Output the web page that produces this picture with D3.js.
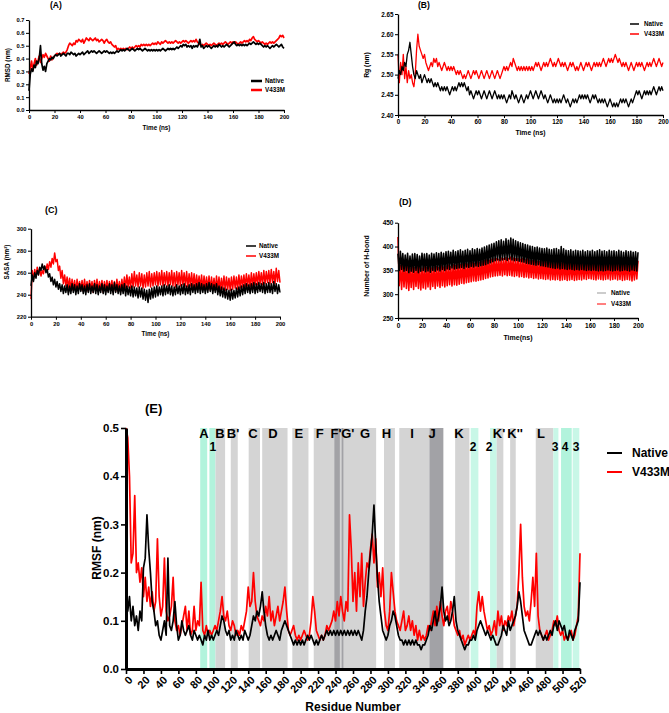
<!DOCTYPE html>
<html><head><meta charset="utf-8">
<script src="https://cdn.jsdelivr.net/npm/d3@7"></script>
<style>body{margin:0;background:#fff}svg{display:block;font-family:Arial,"Liberation Sans",sans-serif}</style>
</head><body><svg id="c" width="669" height="713"></svg>
<script>
// ---------- DATA ----------
const timeNs = d3.range(0, 201);
const xTicksTime = [0,20,40,60,80,100,120,140,160,180,200];

const rmsdNative = [0.15,0.28,0.32,0.30,0.35,0.33,0.38,0.36,0.40,0.50,0.36,
0.31,0.34,0.30,0.36,0.38,0.40,0.39,0.41,0.40,0.42,
0.43,0.42,0.43,0.44,0.42,0.43,0.44,0.43,0.42,0.44,
0.44,0.43,0.45,0.44,0.43,0.44,0.42,0.43,0.44,0.43,
0.44,0.45,0.43,0.44,0.45,0.46,0.44,0.45,0.46,0.45,
0.46,0.45,0.44,0.45,0.46,0.45,0.44,0.45,0.46,0.45,
0.46,0.45,0.44,0.45,0.44,0.45,0.44,0.45,0.46,0.45,
0.46,0.47,0.46,0.47,0.46,0.47,0.48,0.47,0.46,0.47,
0.48,0.47,0.46,0.47,0.48,0.47,0.48,0.47,0.46,0.47,
0.48,0.47,0.46,0.47,0.46,0.47,0.46,0.47,0.46,0.47,
0.46,0.47,0.46,0.47,0.48,0.47,0.46,0.47,0.48,0.47,
0.48,0.47,0.48,0.47,0.48,0.49,0.48,0.49,0.50,0.49,
0.51,0.50,0.51,0.49,0.50,0.49,0.50,0.48,0.50,0.49,
0.50,0.49,0.51,0.55,0.49,0.50,0.48,0.49,0.50,0.49,
0.50,0.49,0.48,0.49,0.50,0.49,0.50,0.49,0.51,0.50,
0.49,0.50,0.49,0.50,0.51,0.50,0.49,0.50,0.51,0.52,
0.53,0.51,0.50,0.51,0.50,0.51,0.50,0.51,0.50,0.51,
0.50,0.51,0.52,0.51,0.52,0.53,0.52,0.51,0.52,0.51,
0.52,0.51,0.50,0.49,0.50,0.49,0.50,0.49,0.48,0.49,
0.50,0.49,0.50,0.51,0.50,0.49,0.50,0.51,0.49,0.48];
const rmsdV433M = [0.28,0.33,0.38,0.31,0.36,0.40,0.35,0.38,0.42,0.37,0.40,
0.43,0.41,0.44,0.42,0.40,0.38,0.42,0.39,0.41,0.42,
0.43,0.44,0.43,0.44,0.43,0.44,0.45,0.44,0.45,0.47,
0.50,0.52,0.51,0.50,0.52,0.51,0.54,0.53,0.55,0.54,
0.53,0.55,0.52,0.54,0.56,0.55,0.54,0.56,0.55,0.54,
0.55,0.56,0.54,0.55,0.53,0.54,0.55,0.54,0.52,0.54,
0.55,0.53,0.52,0.53,0.51,0.50,0.49,0.50,0.47,0.48,
0.47,0.48,0.47,0.48,0.47,0.48,0.47,0.48,0.49,0.48,
0.49,0.48,0.49,0.50,0.49,0.50,0.49,0.51,0.50,0.51,
0.50,0.51,0.50,0.51,0.50,0.51,0.52,0.51,0.52,0.51,
0.53,0.52,0.51,0.53,0.52,0.53,0.54,0.53,0.52,0.53,
0.52,0.53,0.52,0.53,0.54,0.53,0.52,0.53,0.52,0.53,
0.54,0.53,0.54,0.53,0.52,0.53,0.54,0.53,0.54,0.53,
0.55,0.53,0.52,0.51,0.50,0.51,0.50,0.51,0.52,0.51,
0.50,0.51,0.50,0.51,0.52,0.51,0.50,0.51,0.52,0.51,
0.52,0.51,0.52,0.53,0.52,0.51,0.52,0.53,0.52,0.53,
0.52,0.53,0.52,0.51,0.52,0.53,0.52,0.53,0.54,0.53,
0.54,0.53,0.55,0.54,0.56,0.57,0.55,0.54,0.53,0.54,
0.53,0.52,0.53,0.52,0.51,0.52,0.51,0.52,0.53,0.52,
0.53,0.52,0.53,0.54,0.55,0.56,0.58,0.57,0.58,0.56];

const rgNative = [2.49,2.51,2.50,2.52,2.51,2.53,2.52,2.55,2.56,2.58,2.55,
2.52,2.50,2.49,2.51,2.50,2.49,2.50,2.48,2.49,2.50,
2.49,2.48,2.49,2.48,2.49,2.48,2.47,2.48,2.47,2.48,
2.47,2.46,2.47,2.46,2.47,2.46,2.47,2.46,2.45,2.46,
2.47,2.46,2.47,2.46,2.47,2.48,2.47,2.48,2.47,2.48,
2.47,2.46,2.47,2.45,2.46,2.45,2.44,2.45,2.46,2.45,
2.46,2.45,2.44,2.45,2.46,2.45,2.44,2.45,2.46,2.45,
2.44,2.45,2.46,2.45,2.44,2.45,2.44,2.45,2.44,2.45,
2.44,2.43,2.44,2.45,2.44,2.46,2.45,2.44,2.45,2.44,
2.43,2.44,2.45,2.44,2.43,2.44,2.45,2.44,2.45,2.46,
2.45,2.44,2.45,2.46,2.45,2.44,2.45,2.46,2.45,2.44,
2.45,2.44,2.43,2.44,2.45,2.44,2.43,2.44,2.43,2.44,
2.43,2.44,2.43,2.44,2.45,2.44,2.43,2.44,2.43,2.42,
2.43,2.44,2.43,2.44,2.43,2.44,2.45,2.44,2.45,2.44,
2.45,2.44,2.45,2.44,2.43,2.44,2.45,2.44,2.45,2.44,
2.43,2.44,2.43,2.44,2.43,2.44,2.43,2.42,2.43,2.44,
2.43,2.42,2.43,2.42,2.43,2.42,2.43,2.44,2.43,2.44,
2.43,2.44,2.43,2.42,2.43,2.44,2.43,2.44,2.45,2.46,
2.45,2.46,2.45,2.44,2.45,2.46,2.45,2.46,2.45,2.46,
2.45,2.46,2.47,2.46,2.45,2.46,2.47,2.46,2.47,2.46];
const rgV433M = [2.55,2.48,2.53,2.50,2.55,2.49,2.52,2.48,2.51,2.49,2.50,
2.48,2.47,2.50,2.56,2.60,2.57,2.56,2.55,2.54,2.55,
2.53,2.52,2.51,2.52,2.53,2.52,2.54,2.53,2.54,2.52,
2.53,2.52,2.51,2.52,2.53,2.52,2.51,2.52,2.51,2.52,
2.51,2.52,2.51,2.50,2.51,2.50,2.51,2.50,2.49,2.50,
2.49,2.50,2.51,2.50,2.49,2.50,2.51,2.50,2.51,2.50,
2.49,2.50,2.51,2.50,2.49,2.50,2.51,2.50,2.49,2.50,
2.51,2.50,2.49,2.50,2.51,2.50,2.49,2.50,2.51,2.52,
2.51,2.52,2.51,2.52,2.53,2.52,2.54,2.53,2.52,2.51,
2.52,2.51,2.52,2.51,2.52,2.51,2.52,2.51,2.52,2.51,
2.52,2.51,2.52,2.53,2.52,2.53,2.52,2.51,2.52,2.53,
2.52,2.53,2.52,2.53,2.54,2.53,2.52,2.53,2.52,2.53,
2.54,2.53,2.52,2.53,2.52,2.53,2.52,2.51,2.52,2.53,
2.52,2.53,2.52,2.51,2.52,2.51,2.52,2.53,2.52,2.51,
2.52,2.53,2.52,2.53,2.52,2.51,2.52,2.53,2.52,2.53,
2.52,2.53,2.52,2.53,2.54,2.53,2.52,2.53,2.54,2.53,
2.54,2.53,2.54,2.55,2.54,2.53,2.54,2.53,2.52,2.53,
2.52,2.53,2.52,2.51,2.52,2.53,2.52,2.51,2.52,2.53,
2.52,2.53,2.52,2.53,2.52,2.51,2.52,2.53,2.52,2.53,
2.52,2.53,2.54,2.53,2.52,2.53,2.54,2.53,2.52,2.53];

const sasaNative = [248,258,252,260,255,262,258,265,262,268,263,
266,260,263,256,259,252,256,249,254,247,
252,245,250,243,249,241,248,242,249,240,
248,241,250,242,249,240,248,241,250,243,
249,241,248,240,249,242,250,241,248,242,
250,241,249,240,248,242,250,241,249,240,
248,242,250,241,249,240,251,242,249,241,
248,240,249,241,250,239,248,240,247,239,
248,238,247,239,246,237,247,238,246,236,
245,235,244,233,245,236,246,237,247,238,
248,239,247,240,248,239,249,240,248,241,
249,240,248,239,247,240,249,241,248,240,
249,241,250,240,248,241,249,240,250,242,
249,241,250,242,251,241,250,242,249,241,
250,242,251,243,250,241,249,242,250,240,
248,239,247,238,246,237,245,236,244,235,
245,236,244,237,246,238,247,239,248,240,
249,241,250,242,249,241,250,242,251,241,
250,242,251,243,250,242,251,241,250,242,
251,242,250,241,252,243,250,241,249,242];
const sasaV433M = [236,262,254,263,256,265,258,264,257,262,259,
266,261,268,263,270,265,273,268,278,270,
272,262,266,255,262,250,258,248,256,246,
255,245,254,244,253,243,254,245,252,244,
253,243,254,244,252,243,253,244,252,242,
253,244,254,243,252,244,253,242,252,244,
253,243,252,244,253,242,252,243,254,244,
252,243,254,244,256,246,258,247,256,246,
259,247,261,248,258,247,260,248,259,246,
258,247,260,248,261,247,259,248,260,249,
261,248,260,249,262,248,260,249,261,248,
260,249,262,248,260,247,261,249,260,248,
262,249,260,248,261,247,259,248,260,247,
259,246,258,247,257,246,258,245,257,246,
256,245,257,244,256,245,255,244,257,245,
256,244,255,245,257,244,256,245,255,244,
256,245,257,246,256,245,258,246,257,247,
258,247,259,248,258,247,260,248,259,249,
260,249,261,250,260,249,262,250,261,251,
262,250,263,251,261,250,264,252,262,251];

const hbondNative = [385,350,390,352,385,348,382,350,386,345,380,
348,384,346,385,350,383,345,380,348,386,
350,384,347,385,349,382,346,386,350,384,
348,387,351,385,349,388,352,386,350,389,
353,390,352,388,355,392,353,389,354,391,
355,393,356,390,354,392,357,394,356,391,
358,395,357,393,359,396,358,394,360,397,
361,399,362,401,364,403,366,405,368,407,
370,410,372,412,370,414,372,411,373,416,
371,413,374,418,372,415,370,412,371,410,
369,408,368,406,367,404,365,403,364,401,
363,400,362,398,361,399,362,397,360,396,
359,395,358,397,357,394,356,393,355,395,
354,396,355,393,353,400,354,395,353,392,
352,391,353,393,352,390,351,392,352,391,
351,390,352,392,351,389,350,391,351,390,
350,392,351,389,350,391,349,393,350,390,
349,391,350,389,351,392,350,390,349,391,
350,389,351,392,349,390,350,388,351,391,
350,389,349,390,351,388,350,389,349,388];
const hbondV433M = [420,318,360,310,362,315,358,312,360,308,355,
314,358,310,356,316,360,312,357,309,355,
313,359,311,356,315,358,310,355,316,357,
312,358,317,356,314,360,318,357,315,359,
318,361,320,358,317,362,320,360,319,363,
321,362,323,364,322,365,324,363,325,366,
326,367,328,365,327,368,329,366,330,369,
331,370,333,372,334,371,336,373,337,374,
338,375,339,373,340,376,338,374,341,377,
339,375,340,378,338,376,337,374,339,375,
336,373,337,375,335,372,336,374,334,371,
335,370,333,371,334,369,332,368,333,370,
332,369,331,368,332,367,330,368,331,366,
330,367,331,368,329,366,330,367,331,365,
329,366,330,368,331,367,329,366,330,368,
331,367,330,369,332,368,331,367,333,369,
332,368,331,367,330,366,332,368,331,367,
330,366,331,368,332,367,330,369,331,368,
332,367,330,366,331,368,329,367,330,369,
331,368,330,367,328,366,330,368,332,370];

// RMSF per residue (every 2nd residue)
const residues = d3.range(0, 521, 2);
const rmsfNative = [.16,.12,.15,.10,.13,.09,.11,.08,.12,.10,
.21,.23,.32,.25,.20,.14,.12,.09,.10,.07,
.06,.08,.10,.07,.23,.09,.08,.10,.14,.09,
.06,.07,.10,.08,.07,.08,.09,.07,.06,.08,
.07,.06,.07,.06,.05,.07,.06,.08,.06,.07,
.06,.07,.08,.07,.09,.11,.10,.08,.07,.08,
.06,.07,.06,.08,.07,.06,.07,.06,.08,.07,
.06,.07,.09,.11,.10,.12,.11,.13,.16,.12,
.09,.07,.06,.07,.06,.07,.08,.07,.06,.08,
.09,.10,.09,.08,.07,.06,.05,.06,.05,.06,
.05,.06,.05,.06,.07,.06,.07,.06,.05,.06,
.05,.06,.07,.06,.07,.08,.07,.08,.07,.08,
.07,.08,.07,.08,.07,.08,.07,.08,.07,.08,
.07,.08,.07,.08,.07,.06,.08,.12,.15,.20,
.24,.28,.34,.26,.19,.14,.11,.08,.07,.06,
.07,.09,.10,.12,.11,.09,.07,.06,.06,.05,
.06,.05,.06,.05,.06,.05,.06,.05,.05,.04,
.05,.05,.06,.07,.09,.08,.10,.12,.09,.11,
.13,.17,.12,.10,.11,.09,.10,.12,.15,.10,
.08,.07,.06,.05,.04,.05,.05,.06,.06,.07,
.06,.08,.09,.10,.09,.08,.07,.08,.07,.06,
.07,.06,.05,.05,.06,.07,.09,.08,.07,.10,
.08,.09,.10,.11,.13,.16,.14,.11,.08,.07,
.06,.05,.05,.06,.07,.08,.07,.08,.07,.06,
.07,.06,.07,.08,.07,.09,.10,.08,.10,.09,
.08,.09,.07,.06,.08,.07,.06,.08,.09,.10,
.18];
const rmsfV433M = [.50,.48,.40,.22,.24,.36,.20,.22,.18,.21,
.15,.19,.14,.17,.13,.16,.12,.14,.27,.15,
.11,.13,.23,.12,.10,.11,.13,.19,.10,.08,
.09,.07,.09,.11,.13,.08,.12,.07,.08,.13,
.08,.10,.09,.18,.08,.07,.09,.07,.08,.07,
.08,.09,.08,.10,.12,.15,.11,.10,.12,.09,
.08,.10,.09,.07,.08,.07,.09,.08,.10,.12,
.17,.13,.14,.20,.14,.11,.10,.09,.11,.10,
.13,.11,.15,.10,.12,.09,.11,.13,.10,.12,
.14,.17,.12,.08,.07,.08,.09,.07,.06,.07,
.06,.07,.08,.07,.06,.07,.10,.15,.12,.08,
.07,.06,.07,.06,.07,.09,.08,.09,.10,.12,
.10,.14,.11,.15,.12,.10,.14,.12,.32,.25,
.14,.20,.12,.22,.15,.24,.13,.18,.22,.21,
.25,.28,.22,.27,.17,.20,.15,.21,.12,.09,
.08,.12,.20,.16,.12,.10,.09,.08,.10,.12,
.08,.09,.11,.08,.10,.07,.09,.06,.08,.06,
.07,.06,.07,.09,.08,.10,.12,.09,.13,.10,
.14,.11,.09,.12,.13,.10,.14,.12,.09,.08,
.07,.08,.06,.07,.05,.06,.07,.06,.07,.08,
.07,.13,.16,.12,.15,.12,.10,.08,.09,.07,
.08,.10,.07,.12,.09,.11,.08,.10,.09,.11,
.10,.12,.09,.11,.13,.20,.30,.19,.13,.11,
.12,.10,.14,.19,.13,.24,.11,.08,.07,.06,
.07,.08,.06,.07,.08,.10,.09,.11,.08,.07,
.08,.06,.07,.06,.07,.08,.06,.07,.09,.11,
.24];
const rmsfTicks = [0,0.1,0.2,0.3,0.4,0.5];
const residueTicks = d3.range(0, 521, 20);

// secondary-structure regions (residue ranges)
const regionStart = [85,95.5,102.5,120,140.5,156,190.5,215,245,238.5,247,295.5,313,347.5,377,394.8,417,424.6,440,469.3,489.5,498.3,511.6];
const regionEnd   = [93,102.5,113.5,128,153.5,185,209,238.5,286.5,245,249,308,347.5,363.5,393.3,403.6,424.6,432.2,446.4,489.5,495.3,510.5,519.2];
const regionKind  = ['c','c','g','g','g','g','g','g','g','d','d','g','g','d','g','l','l','g','g','g','l','c','l'];
const labelText = ['A','1','B',"B'",'C','D','E','F',"F'","G'",'G','H','I','J','K','2','2',"K'","K''",'L','3','4','3'];
const labelRes  = [89.3,99.6,107.7,122.6,145.5,168.4,198,222,240.5,254,273.8,298.4,327.6,350.5,381.4,397.5,415.8,427.3,445.6,475.4,491.4,502.9,515.5];
const labelLow  = [0,1,0,0,0,0,0,0,0,0,0,0,0,0,0,1,1,0,0,0,1,1,1];

// ---------- DRAW ----------
const svg = d3.select('#c');
const RED = '#ff0000';

function styleAxis(g, fs, lw){
  g.select('.domain').attr('stroke','#000').attr('stroke-width',lw);
  g.selectAll('.tick line').attr('stroke','#000').attr('stroke-width',Math.max(0.8,lw*0.8));
  g.selectAll('.tick text').attr('font-size',fs).attr('font-weight','bold').attr('fill','#000');
}

function tsPanel(o){
  const x = d3.scaleLinear().domain([0,200]).range([o.x0,o.x1]);
  const y = d3.scaleLinear().domain(o.yDom).range([o.y1,o.y0]);
  const g = svg.append('g');
  const line = d3.line().x((d,i)=>x(timeNs[i])).y(d=>y(d));
  g.append('path').datum(o.red).attr('d',line).attr('fill','none')
    .attr('stroke',RED).attr('stroke-width',o.lw).attr('stroke-linejoin','round');
  g.append('path').datum(o.black).attr('d',line).attr('fill','none')
    .attr('stroke','#000').attr('stroke-width',o.lw).attr('stroke-linejoin','round');
  const xa = g.append('g').attr('transform',`translate(0,${o.y1})`)
    .call(d3.axisBottom(x).tickValues(xTicksTime).tickSize(3).tickSizeOuter(0).tickPadding(2));
  styleAxis(xa,o.fs,1.3);
  const ya = g.append('g').attr('transform',`translate(${o.x0},0)`)
    .call(d3.axisLeft(y).tickValues(o.yTicks).tickFormat(d3.format(o.fmt)).tickSize(3).tickSizeOuter(0).tickPadding(1.5));
  styleAxis(ya,o.fs,1.3);
  g.append('text').attr('x',o.tx).attr('y',o.ty).attr('font-size',o.tfs).attr('font-weight','bold').text(o.title);
  g.append('text').attr('x',(o.x0+o.x1)/2).attr('y',o.xly).attr('text-anchor','middle')
    .attr('font-size',o.lfs).attr('font-weight','bold').text(o.xlabel);
  g.append('text').attr('transform',`translate(${o.ylx},${o.yly}) rotate(-90)`).attr('text-anchor','middle')
    .attr('font-size',o.lfs).attr('font-weight','bold').text(o.ylabel);
  const leg = [{t:'Native',c:o.natLeg||'#000'},{t:'V433M',c:RED}];
  leg.forEach((L,i)=>{
    const yy = o.legY[i];
    g.append('line').attr('x1',o.legX[0]).attr('x2',o.legX[1]).attr('y1',yy).attr('y2',yy)
      .attr('stroke',L.c).attr('stroke-width',o.legLw);
    g.append('text').attr('x',o.legX[2]).attr('y',yy).attr('dy','0.35em')
      .attr('font-size',o.legFs).attr('font-weight','bold').text(L.t);
  });
}

tsPanel({x0:29,x1:284,y0:20,y1:110,yDom:[0,0.7],yTicks:[0,0.1,0.2,0.3,0.4,0.5,0.6,0.7],fmt:'.1f',
  red:rmsdV433M,black:rmsdNative,lw:1.7,fs:5.8,title:'(A)',tx:50,ty:8,tfs:8.5,
  xlabel:'Time (ns)',xly:130,ylabel:'RMSD (nm)',ylx:10,yly:65,lfs:6.3,
  legX:[251,262,265],legY:[81,90],legLw:2.5,legFs:6.3});
tsPanel({x0:398,x1:663,y0:14,y1:115,yDom:[2.40,2.65],yTicks:[2.40,2.45,2.50,2.55,2.60,2.65],fmt:'.2f',
  red:rgV433M,black:rgNative,lw:1.3,fs:6.3,title:'(B)',tx:418,ty:8,tfs:8.5,
  xlabel:'Time (ns)',xly:134.5,ylabel:'Rg (nm)',ylx:369,yly:65,lfs:6.8,
  legX:[630,639,644],legY:[24,34],legLw:1.5,legFs:6.3});
tsPanel({x0:31,x1:280,y0:228.7,y1:316.7,yDom:[220,300],yTicks:[220,240,260,280,300],fmt:'d',
  red:sasaV433M,black:sasaNative,lw:1.5,fs:5.8,title:'(C)',tx:45,ty:213,tfs:9,
  xlabel:'Time (ns)',xly:336,ylabel:'SASA (nm²)',ylx:9,yly:262,lfs:6.3,
  legX:[246,256,259],legY:[246,256],legLw:1.5,legFs:6.3});
tsPanel({x0:398,x1:638,y0:222.7,y1:318,yDom:[250,450],yTicks:[250,300,350,400,450],fmt:'d',
  red:hbondV433M,black:hbondNative,lw:1.6,fs:6.5,title:'(D)',tx:399,ty:205,tfs:9,
  xlabel:'Time(ns)',xly:339.5,ylabel:'Number of H-bond',ylx:369,yly:266,lfs:7,
  legX:[597,606,611],legY:[293,304],legLw:1,legFs:6.3,natLeg:'#999'});

// ---------- Panel E ----------
(function(){
  const x = d3.scaleLinear().domain([0,520]).range([126,580]);
  const y = d3.scaleLinear().domain([0,0.5]).range([669,428]);
  const g = svg.append('g');
  const fill = {g:'#d4d4d4', d:'#a2a2a6', c:'#b2f3dc', l:'#c8f7e7'};
  regionStart.forEach((s,i)=>{
    g.append('rect').attr('x',x(s)).attr('width',x(regionEnd[i])-x(s))
      .attr('y',y(0.5)).attr('height',y(0)-y(0.5)).attr('fill',fill[regionKind[i]]);
  });
  labelText.forEach((t,i)=>{
    g.append('text').attr('x',x(labelRes[i])).attr('y',labelLow[i]?451:438)
      .attr('text-anchor','middle').attr('font-size',labelLow[i]?12:13).attr('font-weight','bold').text(t);
  });
  const line = d3.line().x((d,i)=>x(residues[i])).y(d=>y(d));
  g.append('path').datum(rmsfV433M).attr('d',line).attr('fill','none').attr('stroke',RED)
    .attr('stroke-width',1.7).attr('stroke-linejoin','round');
  g.append('path').datum(rmsfNative).attr('d',line).attr('fill','none').attr('stroke','#000')
    .attr('stroke-width',1.7).attr('stroke-linejoin','round');
  const xa = g.append('g').attr('transform',`translate(0,${y(0)})`)
    .call(d3.axisBottom(x).tickValues(residueTicks).tickSize(5).tickSizeOuter(0));
  styleAxis(xa,11,3);
  xa.selectAll('.tick line').attr('stroke-width',1.6);
  xa.selectAll('.tick text').attr('x',0).attr('y',0).attr('dy','0.35em')
    .attr('text-anchor','end').attr('transform','translate(4,9) rotate(-45)');
  const ya = g.append('g').attr('transform',`translate(${x(0)},0)`)
    .call(d3.axisLeft(y).tickValues(rmsfTicks).tickFormat(d3.format('.1f')).tickSize(5).tickSizeOuter(0).tickPadding(2));
  styleAxis(ya,11.5,3);
  ya.selectAll('.tick line').attr('stroke-width',1.6);
  g.append('text').attr('x',145).attr('y',413).attr('font-size',13).attr('font-weight','bold').text('(E)');
  g.append('text').attr('x',353).attr('y',711).attr('text-anchor','middle').attr('font-size',12).attr('font-weight','bold').text('Residue Number');
  g.append('text').attr('transform','translate(101,548) rotate(-90)').attr('text-anchor','middle')
    .attr('font-size',12).attr('font-weight','bold').text('RMSF (nm)');
  [{t:'Native',c:'#000'},{t:'V433M',c:RED}].forEach((L,i)=>{
    const yy = [453,472][i];
    g.append('line').attr('x1',607).attr('x2',622).attr('y1',yy).attr('y2',yy).attr('stroke',L.c).attr('stroke-width',2);
    g.append('text').attr('x',632).attr('y',yy).attr('dy','0.35em').attr('font-size',12).attr('font-weight','bold').text(L.t);
  });
})();
</script></body></html>
